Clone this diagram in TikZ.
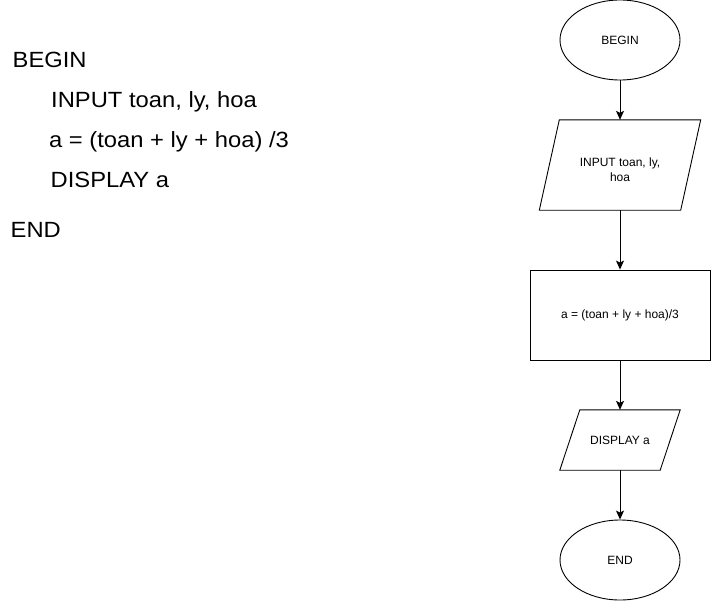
\documentclass[tikz,border=0pt]{standalone}
\usepackage{fontspec}
\setmainfont{Liberation Sans}
\newfontfamily\codefont[FakeStretch=1.08]{Liberation Sans}
\usetikzlibrary{shapes.geometric,arrows.meta}

\begin{document}
\begin{tikzpicture}[x=1pt,y=-1pt,
    terminal/.style={ellipse,draw,line width=0.9pt,minimum width=120pt,minimum height=80pt,inner sep=0pt,font=\fontsize{12}{15}\selectfont},
    process/.style={rectangle,draw,line width=0.9pt,minimum width=180pt,minimum height=90pt,inner sep=0pt,font=\fontsize{12}{15}\selectfont},
    io/.style={rectangle,minimum height=#1,inner sep=0pt,align=center,font=\fontsize{12}{15}\selectfont},
    code/.style={anchor=base west,inner sep=0pt,font=\codefont\fontsize{22}{26}\selectfont},
    flow/.style={line width=0.9pt,-{Stealth[length=9pt,width=8pt,inset=2pt]}}]
  \useasboundingbox (0,0) rectangle (711,602);

  % pseudocode
  \node[code] (c1) at (12.5,67) {BEGIN};
  \node[code] (c2) at (51,107) {INPUT toan, ly, hoa};
  \node[code] (c3) at (49,147) {a = (toan + ly + hoa) /3};
  \node[code] (c4) at (50.5,187) {DISPLAY a};
  \node[code] (c5) at (10.5,237) {END};

  % flowchart
  \node[terminal] (begin) at (620,40) {BEGIN};
  \node[io=90pt,minimum width=141pt] (input) at (620,165) {\rule{0pt}{19pt}INPUT toan, ly,\\hoa};
  \node[process] (calc) at (620,315) {a = (toan + ly + hoa)/3};
  \node[io=60pt,minimum width=100pt] (display) at (620,440) {DISPLAY a};
  \node[terminal] (end) at (620,560) {END};

  \draw[line width=0.9pt] ([xshift=10pt]input.north west) -- ([xshift=10pt]input.north east)
    -- ([xshift=-10pt]input.south east) -- ([xshift=-10pt]input.south west) -- cycle;
  \draw[line width=0.9pt] ([xshift=10pt]display.north west) -- ([xshift=10pt]display.north east)
    -- ([xshift=-10pt]display.south east) -- ([xshift=-10pt]display.south west) -- cycle;

  \begin{scope}[flow]
    \draw (begin) to (input);
    \draw (input) to (calc);
    \draw (calc) to (display);
    \draw (display) to (end);
  \end{scope}
\end{tikzpicture}
\end{document}
